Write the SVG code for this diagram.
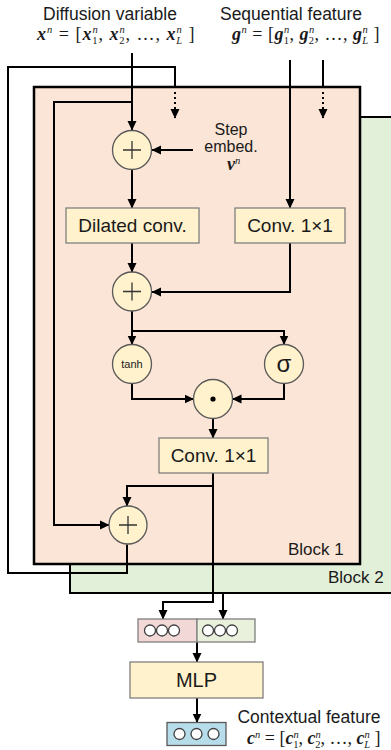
<svg xmlns="http://www.w3.org/2000/svg" width="391" height="750" viewBox="0 0 391 750">
<style>
.t{font-family:"Liberation Sans",Arial,sans-serif;fill:#1a1a1a}
.m{font-family:"Liberation Serif","Times New Roman",serif;font-size:18px;fill:#1a1a1a}
.bi{font-weight:bold;font-style:italic}
.sp{font-size:10.5px;font-style:italic;font-weight:normal}
.sb{font-size:10.5px;font-weight:normal;font-style:normal}
.sbi{font-size:10.5px;font-weight:normal;font-style:italic}
.c{stroke:#000;stroke-width:2;fill:none}
.d{stroke:#000;stroke-width:2;fill:none;stroke-dasharray:2 3}
.a{marker-end:url(#ah)}
.op{fill:#fff2cc;stroke:#595959;stroke-width:1.3}
.bx{fill:#fff2cc;stroke:#7f7f7f;stroke-width:1.3}
.pl{stroke:#333;stroke-width:1.3}
.sc{fill:#fff;stroke:#404040;stroke-width:1.3}
</style>
<defs>
<marker id="ah" markerWidth="10" markerHeight="10" refX="9" refY="5" orient="auto" markerUnits="userSpaceOnUse">
<path d="M0,0.5 L9.5,5 L0,9.5 Z" fill="#000"/>
</marker>
</defs>

<g id="block2">
<rect x="70" y="117" width="340" height="476" fill="#e2efd9" stroke="#000" stroke-width="2"/>
<text class="t" x="328" y="583" font-size="17">Block 2</text>
</g>
<g id="block1">
<rect x="34" y="87" width="326" height="477" fill="#fbe5d6" stroke="#000" stroke-width="2.5"/>
<text class="t" x="288" y="555" font-size="17">Block 1</text>
</g>

<g id="labels">
<text class="t" x="110" y="20" font-size="17.5" text-anchor="middle">Diffusion variable</text>
<text class="m" x="37" y="40" letter-spacing="1"><tspan class="bi">x</tspan><tspan class="sp" dy="-7">n</tspan><tspan dy="7"> = [</tspan><tspan class="bi">x</tspan><tspan class="sp" dy="-7">n</tspan><tspan class="sb" dx="-6.5" dy="11">1</tspan><tspan dy="-4">, </tspan><tspan class="bi">x</tspan><tspan class="sp" dy="-7">n</tspan><tspan class="sb" dx="-6.5" dy="11">2</tspan><tspan dy="-4">, …, </tspan><tspan class="bi">x</tspan><tspan class="sp" dy="-7">n</tspan><tspan class="sbi" dx="-6.5" dy="11">L</tspan><tspan dy="-4"> ]</tspan></text>
<text class="t" x="291" y="20" font-size="17.5" text-anchor="middle">Sequential feature</text>
<text class="m" x="232" y="40" letter-spacing="0.5"><tspan class="bi">g</tspan><tspan class="sp" dy="-7">n</tspan><tspan dy="7"> = [</tspan><tspan class="bi">g</tspan><tspan class="sp" dy="-7">n</tspan><tspan class="sb" dx="-6" dy="11">1</tspan><tspan dy="-4">, </tspan><tspan class="bi">g</tspan><tspan class="sp" dy="-7">n</tspan><tspan class="sb" dx="-6" dy="11">2</tspan><tspan dy="-4">, …, </tspan><tspan class="bi">g</tspan><tspan class="sp" dy="-7">n</tspan><tspan class="sbi" dx="-6" dy="11">L</tspan><tspan dy="-4"> ]</tspan></text>
<text class="t" x="231" y="135" font-size="16" text-anchor="middle">Step</text>
<text class="t" x="231" y="152" font-size="16" text-anchor="middle">embed.</text>
<text class="m" x="227" y="170" font-size="15"><tspan class="bi">v</tspan><tspan class="sp" dy="-6">n</tspan></text>
<text class="t" x="309" y="723" font-size="17.5" text-anchor="middle">Contextual feature</text>
<text class="m" x="247" y="744" font-size="16"><tspan class="bi">c</tspan><tspan class="sp" dy="-6.5">n</tspan><tspan dy="6.5"> = [</tspan><tspan class="bi">c</tspan><tspan class="sp" dy="-6.5">n</tspan><tspan class="sb" dx="-5.5" dy="10.5">1</tspan><tspan dy="-4">, </tspan><tspan class="bi">c</tspan><tspan class="sp" dy="-6.5">n</tspan><tspan class="sb" dx="-5.5" dy="10.5">2</tspan><tspan dy="-4">, …, </tspan><tspan class="bi">c</tspan><tspan class="sp" dy="-6.5">n</tspan><tspan class="sbi" dx="-5.5" dy="10.5">L</tspan><tspan dy="-4"> ]</tspan></text>
</g>

<g id="connectors">
<path class="c a" d="M132,53 V130"/>
<path class="c a" d="M132,102 H54 V525 H109"/>
<path class="c a" d="M193,150 H152"/>
<path class="c a" d="M132,169.5 V208"/>
<path class="c a" d="M290,60 V208"/>
<path class="c" d="M323,60 V88"/>
<path class="d a" d="M323,92 V118"/>
<path class="c a" d="M132,243 V272"/>
<path class="c a" d="M290,243 V292 H152"/>
<path class="c a" d="M132,311 V344.5"/>
<path class="c a" d="M132,331 H284 V344.5"/>
<path class="c a" d="M132,383.5 V399 H193.5"/>
<path class="c a" d="M284,383.5 V399 H232.5"/>
<path class="c a" d="M213,418.5 V438"/>
<path class="c a" d="M213,473 V602 H163 V619"/>
<path class="c a" d="M213,486 H127 V506"/>
<path class="c" d="M127,544.5 V573 H8 V67 H175 V88"/>
<path class="d a" d="M175,92 V118"/>
<path class="c a" d="M223,593 V619"/>
<path class="c a" d="M197,642 V662"/>
<path class="c a" d="M197,698 V722.5"/>
</g>

<g id="add1">
<circle class="op" cx="132" cy="150" r="19.5"/>
<path class="pl" d="M123,150 H141 M132,141 V159"/>
</g>
<g id="dilated-conv">
<rect class="bx" x="66" y="208" width="133" height="35"/>
<text class="t" x="132.5" y="232" font-size="19" text-anchor="middle">Dilated conv.</text>
</g>
<g id="conv1">
<rect class="bx" x="235" y="208" width="110" height="35"/>
<text class="t" x="290" y="232" font-size="19" text-anchor="middle">Conv. 1×1</text>
</g>
<g id="add2">
<circle class="op" cx="132" cy="291.5" r="19.5"/>
<path class="pl" d="M123,291.5 H141 M132,282.5 V300.5"/>
</g>
<g id="tanh">
<circle class="op" cx="132" cy="364" r="19.5"/>
<text class="t" x="132" y="368" font-size="11" text-anchor="middle">tanh</text>
</g>
<g id="sigma">
<circle class="op" cx="284" cy="364" r="19.5"/>
<text class="t" x="284" y="372" font-size="24" text-anchor="middle">σ</text>
</g>
<g id="mult">
<circle class="op" cx="213" cy="399" r="19.5"/>
<circle cx="213" cy="399" r="2.6" fill="#000"/>
</g>
<g id="conv2">
<rect class="bx" x="159" y="438" width="109" height="35"/>
<text class="t" x="213.5" y="462" font-size="19" text-anchor="middle">Conv. 1×1</text>
</g>
<g id="add3">
<circle class="op" cx="128" cy="525" r="19"/>
<path class="pl" d="M119,525 H137 M128,516 V534"/>
</g>
<g id="concat">
<rect x="138" y="619" width="59" height="23" fill="#f2d8d6" stroke="#7f7f7f" stroke-width="1.3"/>
<rect x="197" y="619" width="58" height="23" fill="#e9f1dd" stroke="#7f7f7f" stroke-width="1.3"/>
<circle class="sc" cx="150" cy="630.5" r="5.5"/>
<circle class="sc" cx="162" cy="630.5" r="5.5"/>
<circle class="sc" cx="174" cy="630.5" r="5.5"/>
<circle class="sc" cx="208" cy="630.5" r="5.5"/>
<circle class="sc" cx="220" cy="630.5" r="5.5"/>
<circle class="sc" cx="232" cy="630.5" r="5.5"/>
</g>
<g id="mlp">
<rect class="bx" x="130" y="662" width="133" height="36"/>
<text class="t" x="196.5" y="687" font-size="20" text-anchor="middle">MLP</text>
</g>
<g id="output">
<rect x="167" y="722.5" width="59" height="23" fill="#b7dcea" stroke="#595959" stroke-width="1.3"/>
<circle class="sc" cx="179.5" cy="734" r="5.5"/>
<circle class="sc" cx="196.5" cy="734" r="5.5"/>
<circle class="sc" cx="213.5" cy="734" r="5.5"/>
</g>
</svg>
